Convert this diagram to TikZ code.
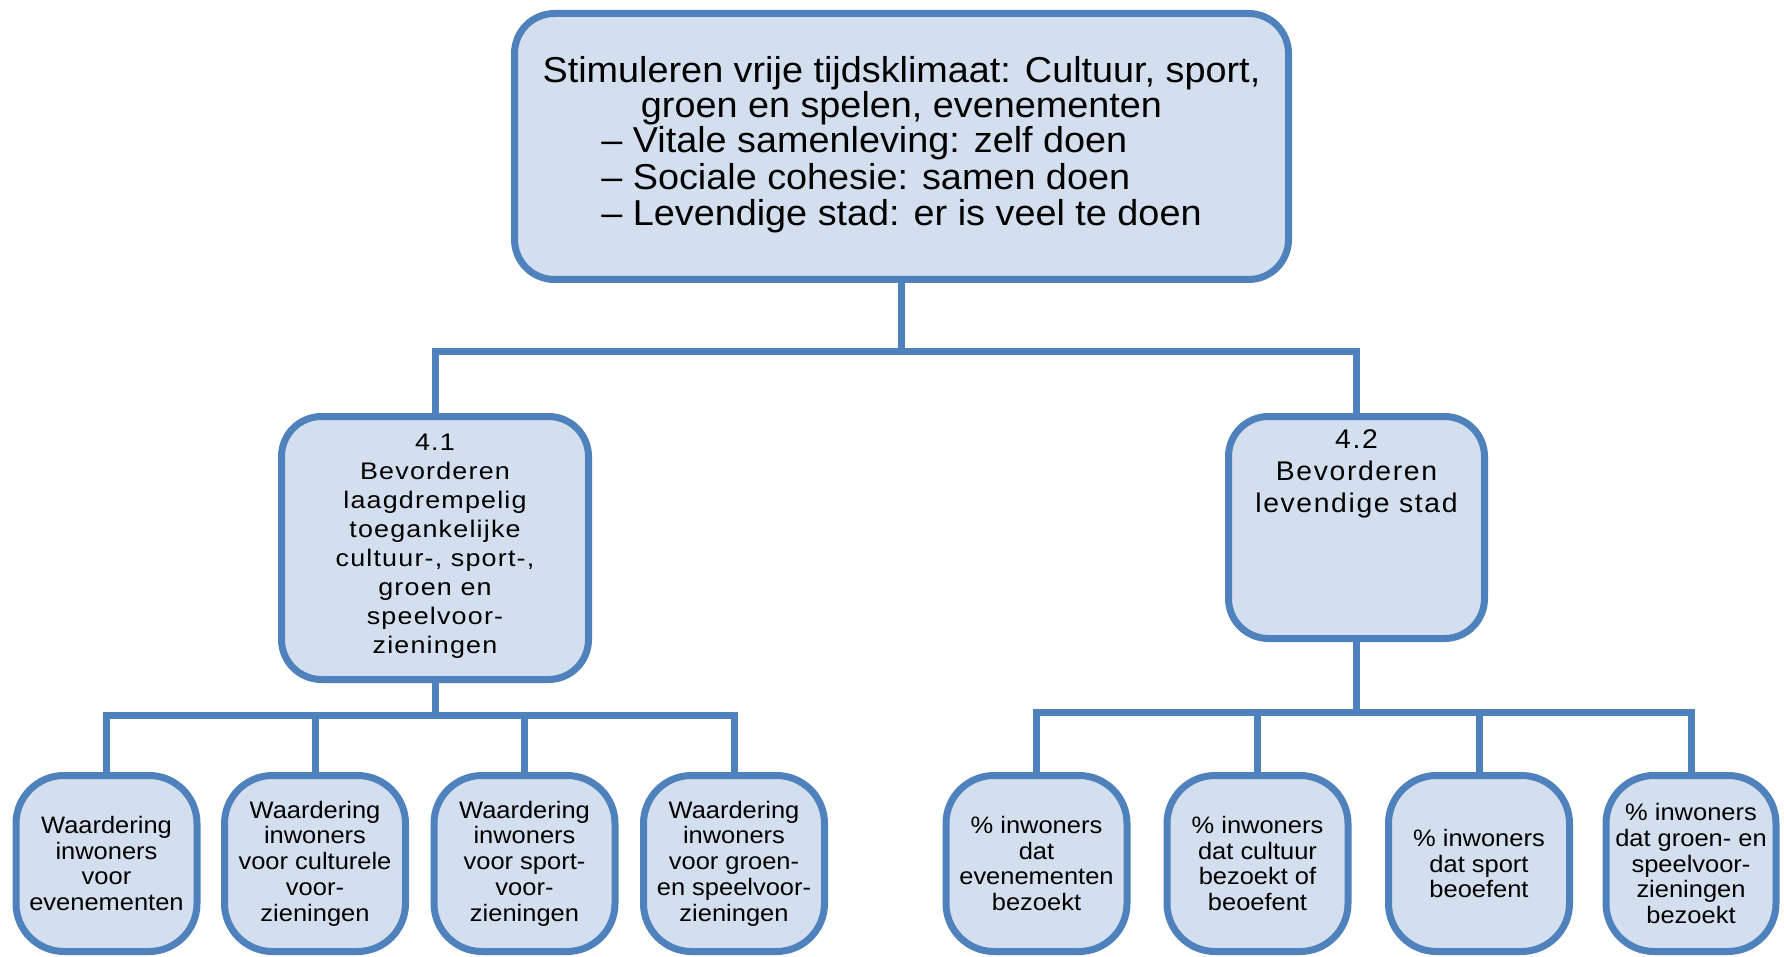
\documentclass[tikz,border=0pt]{standalone}
\usepackage{fontspec}
\setmainfont{Liberation Sans}
\newfontfamily\goalfont[FakeStretch=1.05]{Liberation Sans}
\newfontfamily\subafont[FakeStretch=1.12,LetterSpace=5]{Liberation Sans}
\newfontfamily\subbfont[FakeStretch=1.05,LetterSpace=6]{Liberation Sans}
\newfontfamily\indfont[FakeStretch=1.07]{Liberation Sans}
\definecolor{linecolor}{HTML}{4F81BD}
\definecolor{boxcolor}{HTML}{D3DFEE}

\begin{document}
\begin{tikzpicture}[x=0.5pt, y=-0.5pt,
    box/.style={draw=linecolor, line width=3.5pt, fill=boxcolor, rounded corners=20pt, align=center, inner sep=0pt},
    leaf/.style={box, rounded corners=24pt, minimum width=90.5pt, minimum height=88pt, font=\indfont\fontsize{11.9}{12.9}\selectfont},
    link/.style={draw=linecolor, line width=3.5pt}]
\useasboundingbox (0,0) rectangle (1784,957);

% goal and sub goals
\node[box, minimum width=387pt, minimum height=133pt, font=\goalfont\fontsize{18}{17.5}\selectfont] (goal) at (901.5,146.5)
    {Stimuleren vrije tijdsklimaat: Cultuur, sport,\\groen en spelen, evenementen\\
     \begin{tabular}[t]{@{}l@{}}– Vitale samenleving: zelf doen\\– Sociale cohesie: samen doen\\– Levendige stad: er is veel te doen\end{tabular}};
\node[box, minimum width=153.5pt, minimum height=131.5pt, font=\subafont\fontsize{12}{14.5}\selectfont] (sub1) at (435,548)
    {4.1\\Bevorderen\\laagdrempelig\\toegankelijke\\cultuur-, sport-,\\groen en\\speelvoor-\\zieningen\\[-10pt]\mbox{}};
\node[box, minimum width=128pt, minimum height=111pt, font=\subbfont\fontsize{13.5}{16}\selectfont] (sub2) at (1356.5,527.5)
    {4.2\\Bevorderen\\levendige stad\\[40pt]\mbox{}};

% indicators
\node[leaf] (ind1) at (106.5,863.5) {Waardering\\inwoners\\voor\\evenementen};
\node[leaf] (ind2) at (315,863.5) {Waardering\\inwoners\\voor culturele\\voor-\\zieningen};
\node[leaf] (ind3) at (524.5,863.5) {Waardering\\inwoners\\voor sport-\\voor-\\zieningen};
\node[leaf] (ind4) at (734,863.5) {Waardering\\inwoners\\voor groen-\\en speelvoor-\\zieningen};
\node[leaf] (ind5) at (1036.5,863.5) {\% inwoners\\dat\\evenementen\\bezoekt};
\node[leaf] (ind6) at (1257.5,863.5) {\% inwoners\\dat cultuur\\bezoekt of\\beoefent};
\node[leaf] (ind7) at (1479,863.5) {\% inwoners\\dat sport\\beoefent};
\node[leaf, minimum width=85pt] (ind8) at (1691,863.5) {\% inwoners\\dat groen- en\\speelvoor-\\zieningen\\bezoekt};

\coordinate (topbus) at (901.5,352);
\coordinate (leftbus) at (435,715);
\coordinate (rightbus) at (1356.5,712);

\draw[link] (goal) -- (topbus);
\draw[link] (sub1.north) |- (topbus) -| (sub2.north);
\draw[link] (sub1) -- (leftbus);
\draw[link] (ind1.north) |- (leftbus) -| (ind4.north);
\draw[link] (ind2) -- (ind2 |- leftbus);
\draw[link] (ind3) -- (ind3 |- leftbus);
\draw[link] (sub2) -- (rightbus);
\draw[link] (ind5.north) |- (rightbus) -| (ind8.north);
\draw[link] (ind6) -- (ind6 |- rightbus);
\draw[link] (ind7) -- (ind7 |- rightbus);
\end{tikzpicture}
\end{document}
